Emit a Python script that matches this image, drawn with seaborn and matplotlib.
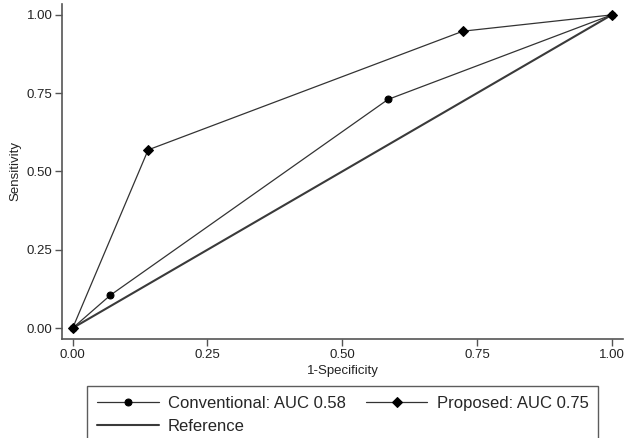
import matplotlib
matplotlib.use("Agg")
import matplotlib.pyplot as plt
import seaborn as sns
import pandas as pd

# ROC points
conv_fpr = [0.0, 0.07, 0.585, 1.0]
conv_tpr = [0.0, 0.105, 0.73, 1.0]
prop_fpr = [0.0, 0.14, 0.724, 1.0]
prop_tpr = [0.0, 0.569, 0.948, 1.0]
ref_x = [0.0, 1.0]
ref_y = [0.0, 1.0]
ticks = [0.0, 0.25, 0.5, 0.75, 1.0]
tick_labels = ["0.00", "0.25", "0.50", "0.75", "1.00"]

sns.set_style("white")
plt.rcParams['font.family'] = ['Liberation Sans', 'DejaVu Sans']

fig = plt.figure(figsize=(6.28, 4.38), dpi=100)
ax = fig.add_axes([0.099, 0.226, 0.893, 0.765])

conv = pd.DataFrame({"fpr": conv_fpr, "tpr": conv_tpr})
prop = pd.DataFrame({"fpr": prop_fpr, "tpr": prop_tpr})
ref = pd.DataFrame({"fpr": ref_x, "tpr": ref_y})

sns.lineplot(data=conv, x="fpr", y="tpr", ax=ax, color="#333333", lw=0.9,
             marker="o", markersize=5, markerfacecolor="black",
             markeredgecolor="black", label="Conventional: AUC 0.58")
sns.lineplot(data=ref, x="fpr", y="tpr", ax=ax, color="#3a3a3a", lw=1.5,
             label="Reference")
sns.lineplot(data=prop, x="fpr", y="tpr", ax=ax, color="#333333", lw=0.9,
             marker="D", markersize=5, markerfacecolor="black",
             markeredgecolor="black", label="Proposed: AUC 0.75")

ax.set_xlim(-0.0195, 1.021)
ax.set_ylim(-0.035, 1.035)
ax.set_xticks(ticks)
ax.set_xticklabels(tick_labels)
ax.set_yticks(ticks)
ax.set_yticklabels(tick_labels)
ax.tick_params(axis="both", which="major", direction="out", length=5, width=1,
               color="#555555", labelsize=9.5, labelcolor="#222222", pad=2,
               bottom=True, left=True)
ax.set_xlabel("1-Specificity", fontsize=9.5, labelpad=3, color="#222222")
ax.set_ylabel("Sensitivity", fontsize=9.5, labelpad=4, color="#222222")
for side in ["top", "right"]:
    ax.spines[side].set_visible(False)
for side in ["left", "bottom"]:
    ax.spines[side].set_color("#555555")
    ax.spines[side].set_linewidth(1.2)

handles, labels = ax.get_legend_handles_labels()
ax.get_legend().remove()
leg = fig.legend(handles, labels, ncol=2, loc="upper left",
                 bbox_to_anchor=(0.1385, 0.1187),
                 fontsize=12, handlelength=3.7, handletextpad=0.55,
                 columnspacing=1.2, frameon=True, fancybox=False,
                 borderaxespad=0.0, labelspacing=0.45, borderpad=0.6)
leg.get_frame().set_edgecolor("#333333")
leg.get_frame().set_linewidth(1.0)

fig.savefig("out.png", dpi=100)
